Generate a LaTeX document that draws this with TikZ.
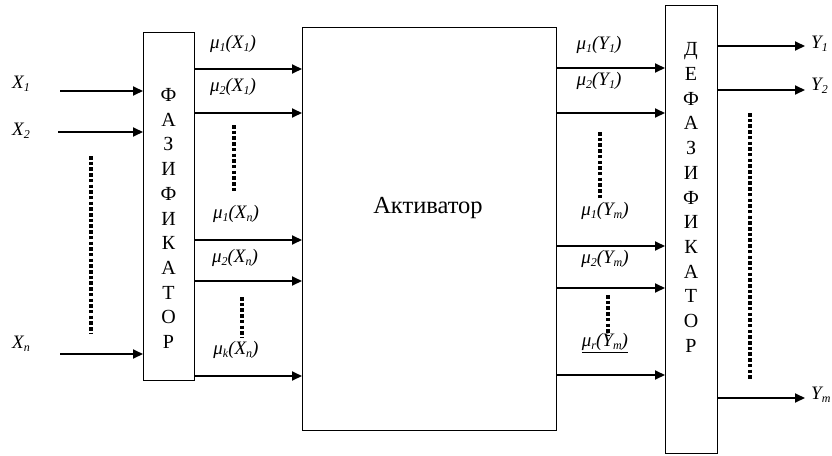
\documentclass[tikz,border=0pt]{standalone}
\usepackage{fontspec}
\setmainfont{Liberation Serif}
\usetikzlibrary{arrows.meta}
\tikzset{
  block/.style={
    draw,
    line width=0.9pt,
    inner sep=0pt,
    outer sep=0pt
  },
  sig/.style={
    line width=1.9pt,
    -{Triangle[length=10pt,width=9pt]}
  },
  dotline/.style={
    line width=4pt,
    dash pattern=on 3.5pt off 2.2pt
  },
  lbl/.style={
    inner sep=0pt,
    font=\fontsize{19}{21}\selectfont\itshape
  },
  letters/.style={
    inner sep=0pt,
    align=center,
    font=\fontsize{20}{24.7}\selectfont
  }
}
\newcommand{\sub}[2]{#1\raisebox{-0.35ex}{\fontsize{12}{12}\selectfont #2}}
\newcommand{\mulbl}[2]{\sub{μ}{#1}(#2)}

\begin{document}
\begin{tikzpicture}[x=1pt,y=-1pt]
    \useasboundingbox (0,0) rectangle (832,455);
    % blocks
    \node[block, minimum width=51pt, minimum height=348pt] (fuz) at (168.5,206) {};
    \node[block, minimum width=254pt, minimum height=403pt] (act) at (429,228.5) {};
    \node[block, minimum width=52pt, minimum height=448pt] (defuz) at (691,229) {};
    \node[letters] (fuztext) at (168.5,218.5) {\fontsize{20}{24.7}\selectfont Ф\\А\\З\\И\\Ф\\И\\К\\А\\Т\\О\\Р};
    \node[letters] (defuztext) at (691,197.5) {\fontsize{20}{24.7}\selectfont Д\\Е\\Ф\\А\\З\\И\\Ф\\И\\К\\А\\Т\\О\\Р};
    \node[font=\fontsize{24.5}{28}\selectfont] (acttext) at (428,208) {Активатор};
    % inputs
    \coordinate (in1) at (60,91);
    \coordinate (in2) at (58,132);
    \coordinate (inn) at (60,354);
    \node[lbl] (x1) at (21,84) {\sub{X}{1}};
    \node[lbl] (x2) at (21,131) {\sub{X}{2}};
    \node[lbl] (xn) at (21,344) {\sub{X}{n}};
    \draw[sig] (in1) -- (fuz.west |- in1);
    \draw[sig] (in2) -- (fuz.west |- in2);
    \draw[sig] (inn) -- (fuz.west |- inn);
    \coordinate (din1) at (91,156);
    \coordinate (din2) at (91,334);
    \draw[dotline] (din1) -- (din2);
    % fuzzifier -> activator
    \coordinate (f1) at (0,69);
    \coordinate (f2) at (0,113);
    \coordinate (f3) at (0,240);
    \coordinate (f4) at (0,281);
    \coordinate (f5) at (0,376);
    \foreach \c in {f1,f2,f3,f4,f5}
      \draw[sig] (fuz.east |- \c) -- (act.west |- \c);
    \node[lbl] (m11) at (233,44) {\mulbl{1}{\sub{X}{1}}};
    \node[lbl] (m21) at (233,87) {\mulbl{2}{\sub{X}{1}}};
    \node[lbl] (m1n) at (236,214) {\mulbl{1}{\sub{X}{n}}};
    \node[lbl] (m2n) at (235,258) {\mulbl{2}{\sub{X}{n}}};
    \node[lbl] (mkn) at (236,350) {\mulbl{k}{\sub{X}{n}}};
    \coordinate (df1) at (234,125);
    \coordinate (df2) at (234,191);
    \coordinate (df3) at (242,297);
    \coordinate (df4) at (242,337);
    \draw[dotline] (df1) -- (df2);
    \draw[dotline] (df3) -- (df4);
    % activator -> defuzzifier
    \coordinate (a1) at (0,68);
    \coordinate (a2) at (0,113);
    \coordinate (a3) at (0,246);
    \coordinate (a4) at (0,288);
    \coordinate (a5) at (0,375);
    \foreach \c in {a1,a2,a3,a4,a5}
      \draw[sig] (act.east |- \c) -- (defuz.west |- \c);
    \node[lbl] (n11) at (599,45) {\mulbl{1}{\sub{Y}{1}}};
    \node[lbl] (n21) at (599,81) {\mulbl{2}{\sub{Y}{1}}};
    \node[lbl] (n1m) at (605,211) {\mulbl{1}{\sub{Y}{m}}};
    \node[lbl] (n2m) at (605,259) {\mulbl{2}{\sub{Y}{m}}};
    \node[lbl] (nrm) at (605,343) {\underline{\mulbl{r}{\sub{Y}{m}}}};
    \coordinate (da1) at (600,132);
    \coordinate (da2) at (600,198);
    \coordinate (da3) at (608,295);
    \coordinate (da4) at (608,335);
    \draw[dotline] (da1) -- (da2);
    \draw[dotline] (da3) -- (da4);
    % outputs
    \coordinate (out1) at (805,46);
    \coordinate (out2) at (805,90);
    \coordinate (outm) at (805,398);
    \draw[sig] (defuz.east |- out1) -- (out1);
    \draw[sig] (defuz.east |- out2) -- (out2);
    \draw[sig] (defuz.east |- outm) -- (outm);
    \node[lbl, anchor=west] (y1) at (811,44) {\sub{Y}{1}};
    \node[lbl, anchor=west] (y2) at (811,86) {\sub{Y}{2}};
    \node[lbl, anchor=west] (ym) at (811,395) {\sub{Y}{m}};
    \coordinate (dout1) at (750,113);
    \coordinate (dout2) at (750,380);
    \draw[dotline] (dout1) -- (dout2);
\end{tikzpicture}
\end{document}
